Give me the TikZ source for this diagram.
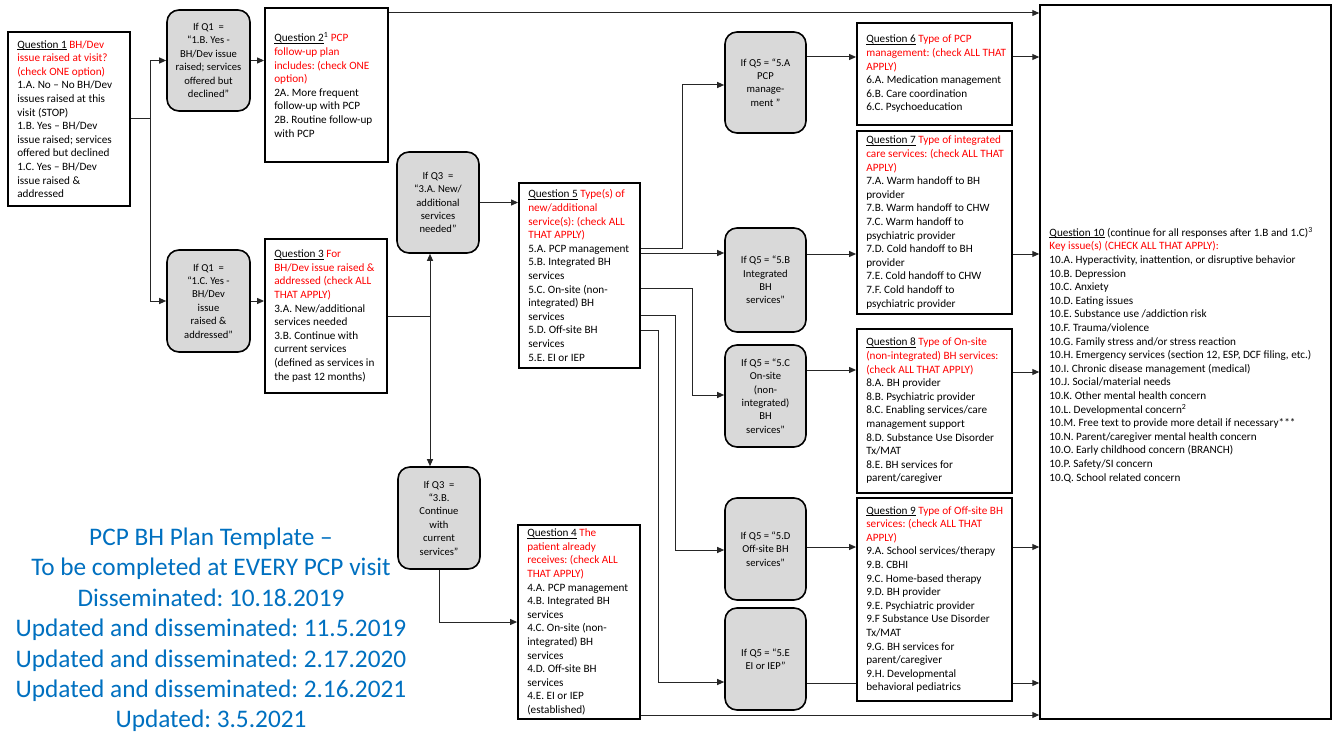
\documentclass[tikz,border=0pt]{standalone}
\usepackage{fontspec}
\setmainfont{Carlito}
\usetikzlibrary{arrows.meta,calc}
\definecolor{qred}{HTML}{FF0000}
\definecolor{tblue}{HTML}{0070C0}
\definecolor{gfill}{HTML}{D9D9D9}
\pgfdeclarelayer{bg}
\pgfsetlayers{bg,main}
\frenchspacing
\newcommand{\qn}[1]{\setbox0\hbox{#1}\rlap{\rule[-1.7pt]{\wd0}{0.6pt}}\box0\relax}
\newcommand{\rd}[1]{\textcolor{qred}{#1}}
\begin{document}
\begin{tikzpicture}[x=1pt,y=-1pt,
  qbox/.style={draw=black, line width=1.8pt, fill=white, inner sep=0pt},
  qtext/.style={anchor=west, align=left, inner sep=0pt, font=\fontsize{11.2}{13.6}\selectfont},
  ifbox/.style={draw=black, line width=1.6pt, fill=gfill, rounded corners=12pt, align=center, inner sep=2pt, font=\fontsize{10.6}{13.4}\selectfont},
  conn/.style={draw=black!85, line width=1pt},
  arr/.style={conn, -{Triangle[length=7pt,width=6pt]}},
  ttl/.style={font=\fontsize{25.3}{30.4}\selectfont, text=tblue, align=center}
]
\useasboundingbox (0,0) rectangle (1333,738);

% helper y levels
\foreach \yy in {13,57,85,248,253,254,288,315,330,370,372,395,547,550,682,683,715}
  {\coordinate (y\yy) at (0,\yy);}

% ---------- Question boxes ----------
\node[qbox, minimum width=122pt, minimum height=174pt] (q1) at (69,119) {};
\node[qtext] (q1t) at ([xshift=10pt]q1.west) {\qn{Question 1} \rd{BH/Dev}\\
\rd{issue raised at visit?}\\
\rd{(check ONE option)}\\
1.A. No – No BH/Dev\\
issues raised at this\\
visit (STOP)\\
1.B. Yes – BH/Dev\\
issue raised; services\\
offered but declined\\
1.C. Yes – BH/Dev\\
issue raised \&\\
addressed};

\node[qbox, minimum width=123pt, minimum height=154pt] (q2) at (326.5,85) {};
\node[qtext] (q2t) at ([xshift=10pt]q2.west) {\qn{Question 2}\textsuperscript{1} \rd{PCP}\\
\rd{follow-up plan}\\
\rd{includes: (check ONE}\\
\rd{option)}\\
2A. More frequent\\
follow-up with PCP\\
2B. Routine follow-up\\
with PCP};

\node[qbox, minimum width=122pt, minimum height=154pt] (q3) at (326,316) {};
\node[qtext] (q3t) at ([xshift=10pt]q3.west) {\qn{Question 3} \rd{For}\\
\rd{BH/Dev issue raised \&}\\
\rd{addressed (check ALL}\\
\rd{THAT APPLY)}\\
3.A. New/additional\\
services needed\\
3.B. Continue with\\
current services\\
(defined as services in\\
the past 12 months)};

\node[qbox, minimum width=121pt, minimum height=185pt] (q5) at (579.5,275.5) {};
\node[qtext] (q5t) at ([xshift=10pt]q5.west) {\qn{Question 5} \rd{Type(s) of}\\
\rd{new/additional}\\
\rd{service(s): (check ALL}\\
\rd{THAT APPLY)}\\
5.A. PCP management\\
5.B. Integrated BH\\
services\\
5.C. On-site (non-\\
integrated) BH\\
services\\
5.D. Off-site BH\\
services\\
5.E. EI or IEP};

\node[qbox, minimum width=122pt, minimum height=194pt] (q4) at (579,622) {};
\node[qtext] (q4t) at ([xshift=10pt]q4.west) {\qn{Question 4} \rd{The}\\
\rd{patient already}\\
\rd{receives: (check ALL}\\
\rd{THAT APPLY)}\\
4.A. PCP management\\
4.B. Integrated BH\\
services\\
4.C. On-site (non-\\
integrated) BH\\
services\\
4.D. Off-site BH\\
services\\
4.E. EI or IEP\\
(established)};

\node[qbox, minimum width=155pt, minimum height=102pt] (q6) at (934.5,74) {};
\node[qtext] (q6t) at ([xshift=10pt]q6.west) {\qn{Question 6} \rd{Type of PCP}\\
\rd{management: (check ALL THAT}\\
\rd{APPLY)}\\
6.A. Medication management\\
6.B. Care coordination\\
6.C. Psychoeducation};

\node[qbox, minimum width=155pt, minimum height=183pt] (q7) at (934.5,222.5) {};
\node[qtext] (q7t) at ([xshift=10pt]q7.west) {\qn{Question 7} \rd{Type of integrated}\\
\rd{care services: (check ALL THAT}\\
\rd{APPLY)}\\
7.A. Warm handoff to BH\\
provider\\
7.B. Warm handoff to CHW\\
7.C. Warm handoff to\\
psychiatric provider\\
7.D. Cold handoff to BH\\
provider\\
7.E. Cold handoff to CHW\\
7.F. Cold handoff to\\
psychiatric provider};

\node[qbox, minimum width=155pt, minimum height=164pt] (q8) at (934.5,411) {};
\node[qtext] (q8t) at ([xshift=10pt]q8.west) {\qn{Question 8} \rd{Type of On-site}\\
\rd{(non-integrated) BH services:}\\
\rd{(check ALL THAT APPLY)}\\
8.A. BH provider\\
8.B. Psychiatric provider\\
8.C. Enabling services/care\\
management support\\
8.D. Substance Use Disorder\\
Tx/MAT\\
8.E. BH services for\\
parent/caregiver};

\node[qbox, minimum width=155pt, minimum height=203pt] (q9) at (934.5,599.5) {};
\node[qtext] (q9t) at ([xshift=10pt]q9.west) {\qn{Question 9} \rd{Type of Off-site BH}\\
\rd{services: (check ALL THAT}\\
\rd{APPLY)}\\
9.A. School services/therapy\\
9.B. CBHI\\
9.C. Home-based therapy\\
9.D. BH provider\\
9.E. Psychiatric provider\\
9.F Substance Use Disorder\\
Tx/MAT\\
9.G. BH services for\\
parent/caregiver\\
9.H. Developmental\\
behavioral pediatrics};

\node[qbox, line width=1.5pt, minimum width=291pt, minimum height=714pt] (q10) at (1185.5,362) {};
\node[qtext] (q10t) at ([xshift=10pt,yshift=7pt]q10.west) {\qn{Question 10} (continue for all responses after 1.B and 1.C)\textsuperscript{3}\\
\rd{Key issue(s) (CHECK ALL THAT APPLY):}\\
10.A. Hyperactivity, inattention, or disruptive behavior\\
10.B. Depression\\
10.C. Anxiety\\
10.D. Eating issues\\
10.E. Substance use /addiction risk\\
10.F. Trauma/violence\\
10.G. Family stress and/or stress reaction\\
10.H. Emergency services (section 12, ESP, DCF filing, etc.)\\
10.I. Chronic disease management (medical)\\
10.J. Social/material needs\\
10.K. Other mental health concern\\
10.L. Developmental concern\textsuperscript{2}\\
10.M. Free text to provide more detail if necessary***\\
10.N. Parent/caregiver mental health concern\\
10.O. Early childhood concern (BRANCH)\\
10.P. Safety/SI concern\\
10.Q. School related concern};

% ---------- decision (If) boxes ----------
\node[ifbox, minimum width=83pt, minimum height=101pt] (ifq1a) at (208.5,60.5) {If Q1~~=\\“1.B. Yes -\\BH/Dev issue\\raised; services\\offered but\\declined”};
\node[ifbox, minimum width=83pt, minimum height=102pt] (ifq1b) at (208.5,301) {If Q1~~=\\“1.C. Yes -\\BH/Dev\\issue\\raised \&\\addressed”};
\node[ifbox, minimum width=82pt, minimum height=101pt] (ifq3a) at (438,202.5) {If Q3~~=\\“3.A. New/\\additional\\services\\needed”};
\node[ifbox, minimum width=82pt, minimum height=102pt] (ifq3b) at (439,518) {If Q3~~=\\“3.B.\\Continue\\with\\current\\services”};
\node[ifbox, minimum width=81pt, minimum height=101pt] (ifq5a) at (765.5,82.5) {If Q5 = “5.A\\PCP\\manage-\\ment ”};
\node[ifbox, minimum width=81pt, minimum height=104pt] (ifq5b) at (765.5,280) {If Q5 = “5.B\\Integrated\\BH\\services”};
\node[ifbox, minimum width=81pt, minimum height=102pt] (ifq5c) at (765.5,396) {If Q5 = “5.C\\On-site\\(non-\\integrated)\\BH\\services”};
\node[ifbox, minimum width=81pt, minimum height=102pt] (ifq5d) at (765.5,549) {If Q5 = “5.D\\Off-site BH\\services”};
\node[ifbox, minimum width=81pt, minimum height=102pt] (ifq5e) at (765.5,659) {If Q5 = “5.E\\EI or IEP”};

% ---------- title ----------
\node[ttl] (title) at (211,630) {PCP BH Plan Template –\\
To be completed at EVERY PCP visit\\
Disseminated: 10.18.2019\\
Updated and disseminated: 11.5.2019\\
Updated and disseminated: 2.17.2020\\
Updated and disseminated: 2.16.2021\\
Updated: 3.5.2021};

% ---------- connectors ----------
\begin{pgfonlayer}{bg}
\coordinate (j1) at (150,119);
\draw[conn] (q1.east) -- (j1);
\draw[arr] (j1) |- (ifq1a.west);
\draw[arr] (j1) |- (ifq1b.west);
\draw[arr] (ifq1a.east) -- (ifq1a.east -| q2.west);
\draw[arr] (ifq1b.east) -- (ifq1b.east -| q3.west);
\draw[arr] (q2.east |- y13) -- (q10.west |- y13);
\coordinate (j3) at (430,316);
\draw[conn] (q3.east) -- (j3);
\draw[arr] (j3) -- (j3 |- ifq3a.south);
\draw[arr] (j3) -- (j3 |- ifq3b.north);
\draw[arr] (ifq3a.east) -- (ifq3a.east -| q5.west);
\draw[arr] (ifq3b.south) |- (q4.west);
% Q5 branches
\draw[arr] (q5.east |- y248) -- (682,248) |- (ifq5a.west |- y85);
\draw[arr] (q5.east |- y253) -- (ifq5b.west |- y253);
\draw[arr] (q5.east |- y288) -- (692,288) |- (ifq5c.west |- y395);
\draw[arr] (q5.east |- y315) -- (675,315) |- (ifq5d.west |- y550);
\draw[arr] (q5.east |- y330) -- (658,330) |- (ifq5e.west |- y682);
% If Q5 -> questions
\draw[arr] (ifq5a.east |- y57) -- (q6.west |- y57);
\draw[arr] (ifq5b.east |- y254) -- (q7.west |- y254);
\draw[arr] (ifq5c.east |- y370) -- (q8.west |- y370);
\draw[arr] (ifq5d.east |- y547) -- (q9.west |- y547);
\draw[arr] (ifq5e.east |- y683) -- (q10.west |- y683);
% questions -> Q10
\draw[arr] (q6.east |- y57) -- (q10.west |- y57);
\draw[arr] (q7.east |- y254) -- (q10.west |- y254);
\draw[arr] (q8.east |- y372) -- (q10.west |- y372);
\draw[arr] (q9.east |- y547) -- (q10.west |- y547);
\draw[arr] (q4.east |- y715) -- (q10.west |- y715);
\end{pgfonlayer}
\end{tikzpicture}
\end{document}
